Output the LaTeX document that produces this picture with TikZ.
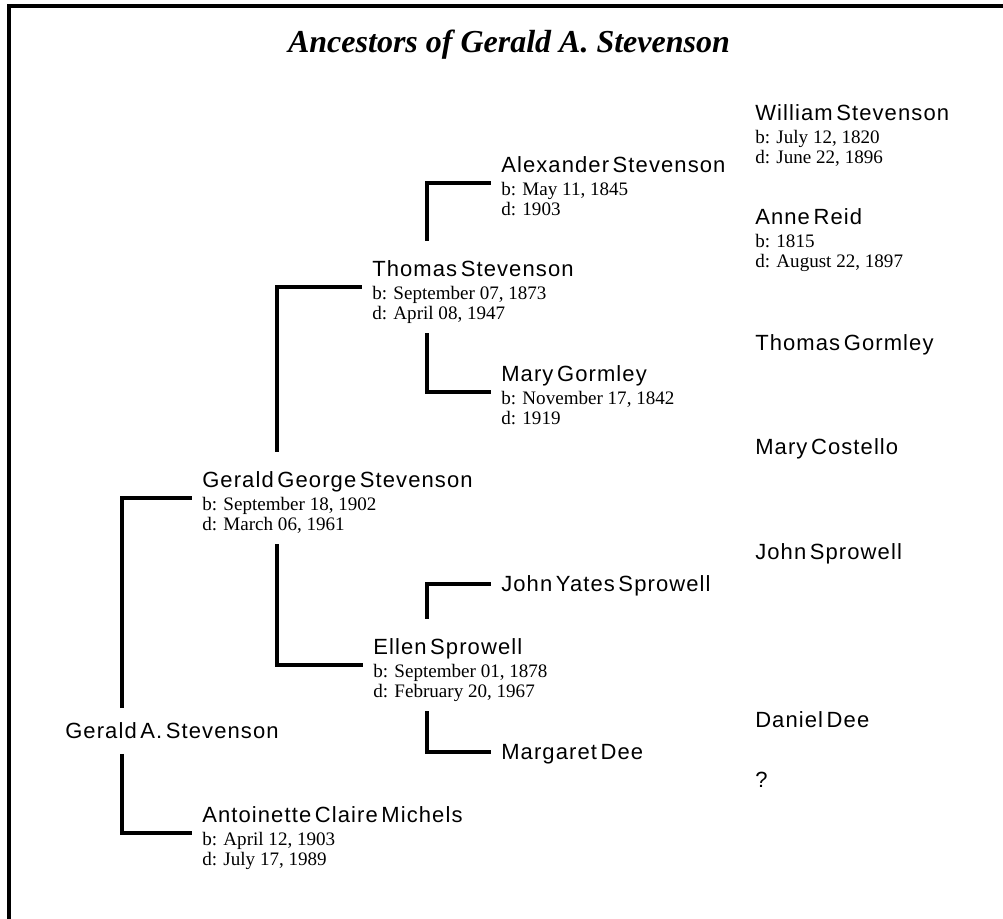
\documentclass[tikz,border=0pt]{standalone}
\usepackage{fontspec}
\setmainfont{Liberation Serif}
\newfontfamily\namefamily[LetterSpace=5,WordSpace=0.5]{Liberation Sans}
\newcommand{\namesz}{\namefamily\fontsize{16.5pt}{18pt}\selectfont}
\newcommand{\datesz}{\rmfamily\fontsize{14.3pt}{15pt}\selectfont}
\newcommand{\lifetext}[3]{\vbox{\baselineskip=15pt\lineskiplimit=-30pt
  \hbox{\namesz #1}\vskip2.25pt
  \hbox{\datesz b: #2}
  \hbox{\datesz d: #3}}}

\tikzset{
  lineage/.style={line width=2.4pt},
  person/.style={anchor=west, inner xsep=7.5pt, inner ysep=6pt, text height=53pt, text depth=3.7pt},
  single/.style={anchor=west, inner xsep=7.5pt, inner ysep=6pt, text height=11.8pt, text depth=0pt, font=\namesz},
  root/.style={single, inner ysep=11pt}
}

\begin{document}
\begin{tikzpicture}[x=0.75pt, y=-0.75pt]
				\useasboundingbox (0,0) rectangle (1003,919);
				% Frame and title:
				\draw[line width=3pt] (9,940) -- (9,6) -- (1020,6);
				\node[font=\rmfamily\bfseries\itshape\fontsize{24pt}{28pt}\selectfont] (title) at (509,45){Ancestors of Gerald A. Stevenson};
				% Spines:
				\coordinate (sp1) at (122,0);
				\coordinate (sp2) at (277,0);
				\coordinate (sp3) at (427,0);
				% Generation 1 to 3:
				\node[root] (gas) at (55,731){Gerald A. Stevenson};
				\node[person] (ggs) at (192,498){\lifetext{Gerald George Stevenson}{September 18, 1902}{March 06, 1961}};
				\node[person] (acm) at (192,833){\lifetext{Antoinette Claire Michels}{April 12, 1903}{July 17, 1989}};
				\node[person] (ths) at (362,287){\lifetext{Thomas Stevenson}{September 07, 1873}{April 08, 1947}};
				\node[person] (els) at (363,665){\lifetext{Ellen Sprowell}{September 01, 1878}{February 20, 1967}};
				% Generation 4:
				\node[person] (als) at (491,183){\lifetext{Alexander Stevenson}{May 11, 1845}{1903}};
				\node[person] (mag) at (491,392){\lifetext{Mary Gormley}{November 17, 1842}{1919}};
				\node[single] (jys) at (491,584){John Yates Sprowell};
				\node[single] (mad) at (491,752){Margaret Dee};
				% Generation 5:
				\node[person] (wis) at (745,131){\lifetext{William Stevenson}{July 12, 1820}{June 22, 1896}};
				\node[person] (anr) at (745,235){\lifetext{Anne Reid}{1815}{August 22, 1897}};
				\node[single] (thg) at (745,343){Thomas Gormley};
				\node[single] (mac) at (745,447){Mary Costello};
				\node[single] (jos) at (745,552){John Sprowell};
				\node[single] (dad) at (745,720){Daniel Dee};
				\node[single] (unk) at (745,780){?};
				% Lines:
				\draw[lineage] (sp1 |- gas.north) |- (ggs.west);
				\draw[lineage] (sp1 |- gas.south) |- (acm.west);
				\draw[lineage] (sp2 |- ggs.north) |- (ths.west);
				\draw[lineage] (sp2 |- ggs.south) |- (els.west);
				\draw[lineage] (sp3 |- ths.north) |- (als.west);
				\draw[lineage] (sp3 |- ths.south) |- (mag.west);
				\draw[lineage] (sp3 |- els.north) |- (jys.west);
				\draw[lineage] (sp3 |- els.south) |- (mad.west);
			\end{tikzpicture}
\end{document}
